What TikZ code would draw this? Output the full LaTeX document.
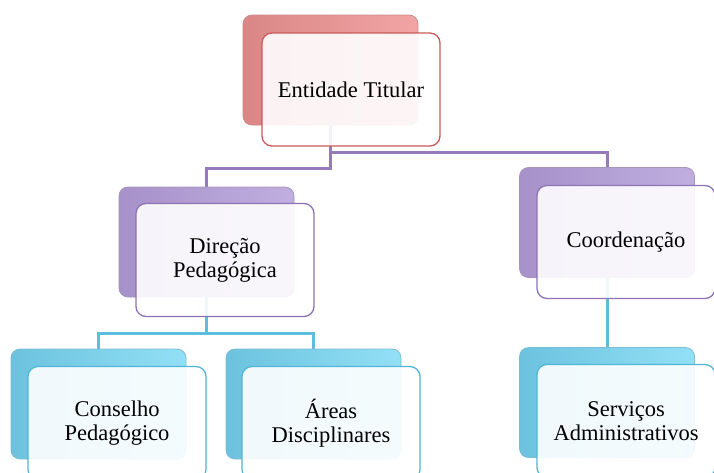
\documentclass[tikz,border=0pt]{standalone}
\usepackage{fontspec}
\setmainfont{Liberation Serif}
\begin{document}
\begin{tikzpicture}[x=1pt,y=-1pt,
  backbox/.style={rectangle, rounded corners=9pt, minimum width=175pt, minimum height=110pt, inner sep=0pt, line width=0.8pt},
  frontbox/.style={rectangle, rounded corners=10pt, minimum width=178pt, minimum height=113pt, inner sep=0pt, line width=1.3pt, fill=white, fill opacity=0.9, text opacity=1, align=center, font=\fontsize{22.5}{24}\selectfont},
  redback/.style={backbox, left color=red1, right color=red2, draw=red2!85!black},
  purback/.style={backbox, left color=pur1, right color=pur2, draw=pur2!85!black},
  bluback/.style={backbox, left color=blu1, right color=blu2, draw=blu2!85!black},
  purline/.style={draw=purl, line width=3pt},
  bluline/.style={draw=blul, line width=3pt}
]
\definecolor{red1}{RGB}{218,134,134}
\definecolor{red2}{RGB}{242,164,164}
\definecolor{redb}{RGB}{200,90,90}
\definecolor{pur1}{RGB}{166,145,200}
\definecolor{pur2}{RGB}{192,174,224}
\definecolor{purb}{RGB}{142,114,182}
\definecolor{blu1}{RGB}{108,194,222}
\definecolor{blu2}{RGB}{146,224,246}
\definecolor{blub}{RGB}{80,182,214}
\definecolor{purl}{RGB}{150,122,186}
\definecolor{blul}{RGB}{92,190,220}
\useasboundingbox (0,0) rectangle (714,472);

% back box centres, used by connectors
\coordinate (entC) at (330.5,70);
\coordinate (dirC) at (206.5,242);
\coordinate (cooC) at (607,222.5);
\coordinate (conC) at (98.5,404);
\coordinate (areC) at (313.5,404);
\coordinate (serC) at (607,402.5);

% connectors
\draw[purline] (entC) -- ++(0,82) -| (cooC);
\draw[purline] (entC) -- ++(0,98) -| (dirC);
\draw[bluline] (dirC) -- ++(0,91) -| (conC);
\draw[bluline] (dirC) -- ++(0,91) -| (areC);
\draw[bluline] (cooC) -- (serC);

% back boxes
\node[redback] (entB) at (entC) {};
\node[purback] (dirB) at (dirC) {};
\node[purback] (cooB) at (cooC) {};
\node[bluback] (conB) at (conC) {};
\node[bluback] (areB) at (areC) {};
\node[bluback] (serB) at (serC) {};

% front boxes
\node[frontbox, draw=redb] (ent) at (351,89.5) {Entidade Titular};
\node[frontbox, draw=purb] (dir) at (225,260) {Direção\\Pedagógica};
\node[frontbox, draw=purb] (coo) at (626,242) {Coordenação};
\node[frontbox, draw=blub] (con) at (117,423) {Conselho\\Pedagógico};
\node[frontbox, draw=blub] (are) at (331,423) {Áreas\\Disciplinares};
\node[frontbox, draw=blub] (ser) at (626,421) {Serviços\\Administrativos};
\end{tikzpicture}
\end{document}
